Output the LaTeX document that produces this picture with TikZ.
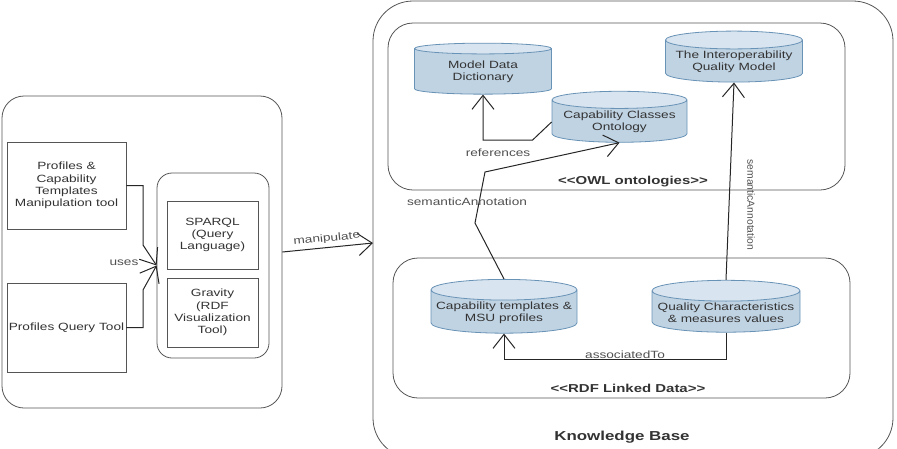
\documentclass[tikz,border=0pt]{standalone}
\usepackage{fontspec}
\setmainfont{Liberation Sans}[FakeStretch=1.3, Ligatures=TeXOff]
\newfontfamily\upsans{Liberation Sans}
\usetikzlibrary{shapes.geometric,arrows.meta}
\definecolor{dbfill}{RGB}{192,211,227}
\definecolor{dbtop}{RGB}{216,228,239}
\definecolor{dbedge}{RGB}{104,146,182}
\definecolor{frame}{RGB}{85,85,85}
\definecolor{lbl}{RGB}{80,80,80}
\begin{document}
\begin{tikzpicture}[x=1pt, y=-1pt,
    every node/.style={font=\fontsize{10.5}{12.3}\selectfont, text=black!80},
    area/.style={draw=frame, line width=0.8pt, rounded corners=#1},
    tool/.style={draw=frame, line width=0.8pt, align=center, inner sep=1pt},
    db/.style={cylinder, shape border rotate=90, aspect=0.15, draw=dbedge,
        line width=0.8pt, cylinder uses custom fill, cylinder body fill=dbfill,
        cylinder end fill=dbtop, minimum width=137pt, minimum height=51pt,
        align=center, inner sep=1pt},
    dep/.style={draw=black!85, line width=1pt, -{Straight Barb[length=14pt, width=22pt]}},
    lab/.style={text=lbl},
    title/.style={font=\fontsize{11.5}{13}\selectfont\bfseries}]
    \clip (0,0) rectangle (897,448);
    \node[area=22pt, minimum width=280pt, minimum height=312pt] (client) at (142,252) {};
    \node[area=40pt, minimum width=520pt, minimum height=457pt] (kb) at (633,229.5) {};
    \node[area=25pt, minimum width=457pt, minimum height=167pt] (owl) at (616.5,106.5) {};
    \node[area=25pt, minimum width=457pt, minimum height=140pt] (rdf) at (621.5,328) {};
    \node[area=15pt, minimum width=112pt, minimum height=185pt] (tools) at (213,265.5) {};

    \node[tool, minimum width=119pt, minimum height=87pt] (pct) at (66.5,185.5) {Profiles \&\\Capability\\Templates\\Manipulation tool};
    \node[tool, minimum width=119pt, minimum height=89pt] (pqt) at (66.5,327.5) {Profiles Query Tool};
    \node[tool, minimum width=91pt, minimum height=68pt] (sparql) at (212.5,235) {SPARQL\\(Query\\Language)};
    \node[tool, minimum width=91pt, minimum height=69pt] (gravity) at (212.5,312.5) {Gravity\\(RDF\\Visualization\\Tool)};

    \node[db] (mdd) at (483,72) {Model Data\\Dictionary};
    \node[db] (iqm) at (734,62) {The Interoperability\\Quality Model};
    \node[db, minimum width=135pt] (cco) at (619.5,122) {Capability Classes\\Ontology};
    \node[db, minimum width=146pt] (ctm) at (504,312.5) {Capability  templates \&\\MSU profiles};
    \node[db, minimum width=148pt] (qcm) at (726,312.5) {Quality Characteristics\\\& measures values};

    \node[title] at (633,182) {<<OWL ontologies>>};
    \node[title] at (628,388) {<<RDF Linked Data>>};
    \node[title, font=\fontsize{13}{15}\selectfont\bfseries] at (622,437) {Knowledge Base};

    \coordinate (mtip) at (373,243);
    \draw[dep] (pct.east) -| (143,245) -- (tools.west);
    \draw[dep] (pqt.east) -| (143,290) -- (tools.west);
    \draw[dep] (client.east) -- node[lab, above, sloped] {manipulate} (mtip);
    \draw[dep] (cco.west) -- ++(-19,18) -| (mdd.south);
    \draw[dep] (ctm.north) -- (475,223) -- (485,172) -- (cco.south);
    \draw[dep] (qcm.north) -- (iqm.south);
    \draw[dep] (qcm.south) -- ++(0,27) -| (ctm.south);

    \node[lab] at (124,263) {uses};
    \node[lab] at (498,153) {references};
    \node[lab] at (467,202) {semanticAnnotation};
    \node[lab, rotate=-90, font=\upsans\fontsize{10.3}{12}\selectfont] at (751,205) {semanticAnnotation};
    \node[lab] at (625,355) {associatedTo};
\end{tikzpicture}
\end{document}
